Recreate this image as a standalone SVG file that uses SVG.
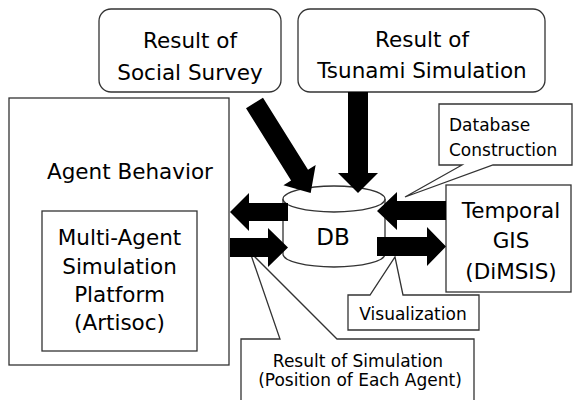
<svg xmlns="http://www.w3.org/2000/svg" width="573" height="400" viewBox="0 0 573 400">
<style>
.box{fill:#fff;stroke:#333;stroke-width:1.3}
.arr{fill:#000;stroke:none}
.t{font-family:"DejaVu Sans",sans-serif;font-size:21.5px;fill:#000;text-anchor:middle}
.s{font-family:"DejaVu Sans",sans-serif;font-size:17px;fill:#000}
.m{text-anchor:middle}
</style>
<rect width="573" height="400" fill="#fff"/>
<g id="social-survey">
<rect class="box" x="99" y="9" width="182" height="83" rx="12"/>
<text class="t" x="190" y="48">Result of</text>
<text class="t" x="190" y="80">Social Survey</text>
</g>
<g id="tsunami-simulation">
<rect class="box" x="298" y="9" width="247" height="83" rx="12"/>
<text class="t" x="422" y="47">Result of</text>
<text class="t" x="422" y="78">Tsunami Simulation</text>
</g>
<g id="agent-behavior">
<rect class="box" x="9" y="98" width="220" height="267"/>
<text class="t" x="130" y="179">Agent Behavior</text>
</g>
<g id="mas-platform">
<rect class="box" x="42" y="211" width="155" height="140"/>
<text class="t" x="119.5" y="245">Multi-Agent</text>
<text class="t" x="119.5" y="274">Simulation</text>
<text class="t" x="119.5" y="302">Platform</text>
<text class="t" x="119.5" y="330">(Artisoc)</text>
</g>
<g id="db">
<path class="box" d="M283,199 V254 A51,13 0 0 0 385,254 V199"/>
<ellipse class="box" cx="334" cy="199" rx="51" ry="13"/>
<text class="t" x="333" y="245" style="font-size:23px">DB</text>
</g>
<g id="temporal-gis">
<rect class="box" x="446" y="185" width="125" height="107"/>
<text class="t" x="511" y="218">Temporal</text>
<text class="t" x="511" y="248">GIS</text>
<text class="t" x="511" y="279">(DiMSIS)</text>
</g>
<g id="database-construction">
<path class="box" d="M439,104 H572 V165 H493 L405,197 L462,165 H439 Z"/>
<text class="s" x="449" y="131">Database</text>
<text class="s" x="449" y="156">Construction</text>
</g>
<g id="visualization">
<path class="box" d="M348,295 H370 L395,257 L403,295 H479 V330 H348 Z"/>
<text class="s m" x="413" y="320">Visualization</text>
</g>
<g id="result-of-simulation">
<path class="box" d="M241,339 H280 L250,252 L337,339 H474 V402 H241 Z"/>
<text class="s m" x="358" y="367">Result of Simulation</text>
<text class="s m" x="360" y="386">(Position of Each Agent)</text>
</g>
<g id="connectors">
<polygon class="arr" transform="translate(254.5,103) rotate(58)" points="0,-10 85,-10 85,-19 106,0 85,19 85,10 0,10"/>
<polygon class="arr" points="348,92 368,92 368,173 378,173 358,193 338,173 348,173"/>
<polygon class="arr" points="288,203 249,203 249,193 230,212 249,231 249,221 288,221"/>
<polygon class="arr" points="230,238 268,238 268,228 288,247.5 268,267 268,257 230,257"/>
<polygon class="arr" points="446,201 397,201 397,192 377,211 397,230 397,220 446,220"/>
<polygon class="arr" points="377,237 427,237 427,227 446,246.5 427,266 427,256 377,256"/>
</g>
</svg>
